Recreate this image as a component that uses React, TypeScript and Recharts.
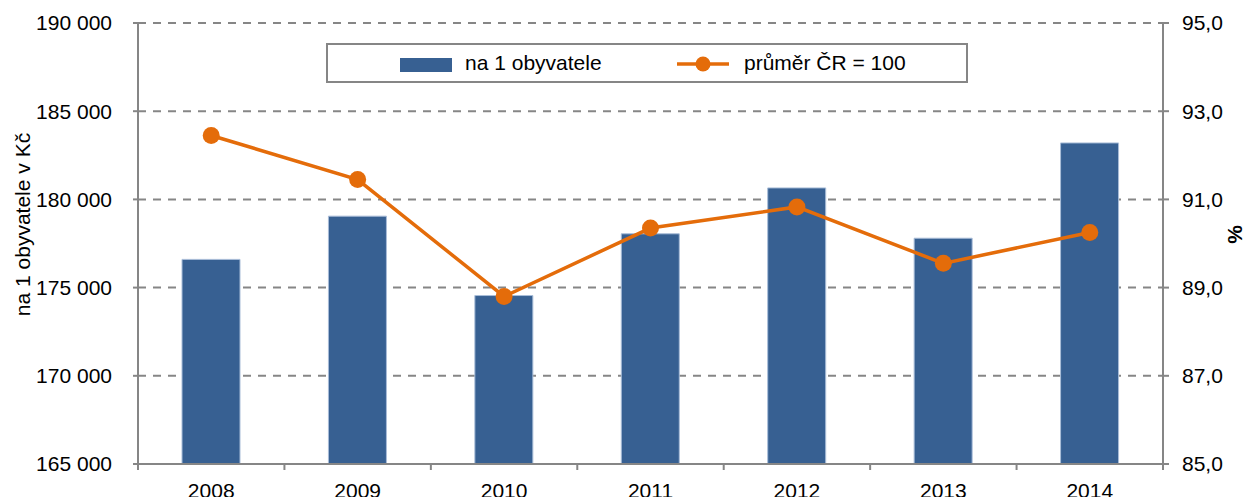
import React from 'react';
import { ComposedChart, Bar, Line, XAxis, YAxis, CartesianGrid, Legend } from 'recharts';

const years = ['2008', '2009', '2010', '2011', '2012', '2013', '2014'];
const perCapita = [176600, 179050, 174550, 178050, 180650, 177800, 183200];
const indexCR = [92.45, 91.45, 88.8, 90.35, 90.83, 89.55, 90.25];

const leftTicks = [165000, 170000, 175000, 180000, 185000, 190000];
const rightTicks = [85, 87, 89, 91, 93, 95];

const BAR_NAME = 'na 1 obyvatele';
const LINE_NAME = 'průměr ČR = 100';
const LEFT_LABEL = 'na 1 obyvatele v Kč';
const RIGHT_LABEL = '%';

const BLUE = '#376092';
const ORANGE = '#E46C0A';
const GREY = '#868686';
const FONT = '"Liberation Sans", Arial, sans-serif';

const W = 1246;
const H = 497;
const LEFT_W = 138;
const RIGHT_W = 83;
const TOP = 23;
const X_H = 33;

const data = years.map((y, i) => ({ year: y, perCapita: perCapita[i], indexCR: indexCR[i] }));

const fmtThousands = (v: number) => String(v).replace(/\B(?=(\d{3})+(?!\d))/g, ' ');
const fmtPct = (v: number) => v.toFixed(1).replace('.', ',');

const step = (W - LEFT_W - RIGHT_W) / years.length;

const YearTick = (props: any) => {
  const { x, y, payload, index } = props;
  const axisY = y - 19;
  return (
    <g>
      <line x1={x - step / 2} x2={x - step / 2} y1={axisY} y2={axisY + 6} stroke={GREY} strokeWidth={2} />
      {index === years.length - 1 && (
        <line x1={x + step / 2} x2={x + step / 2} y1={axisY} y2={axisY + 6} stroke={GREY} strokeWidth={2} />
      )}
      <text x={x} y={y} dy="0.71em" textAnchor="middle" fill="#000" fontSize={21} fontFamily={FONT}>
        {payload.value}
      </text>
    </g>
  );
};

const LegendBox = () => (
  <div
    style={{
      boxSizing: 'border-box',
      width: 642,
      height: 40,
      border: `2px solid ${GREY}`,
      background: '#fff',
      position: 'relative',
      fontFamily: FONT,
      fontSize: 21,
      color: '#000',
    }}
  >
    <div style={{ position: 'absolute', left: 72, top: 13, width: 52, height: 14, background: BLUE }} />
    <div style={{ position: 'absolute', left: 137, top: 6, lineHeight: '24px' }}>{BAR_NAME}</div>
    <svg style={{ position: 'absolute', left: 348, top: 8 }} width={54} height={22}>
      <line x1={1} x2={53} y1={11} y2={11} stroke={ORANGE} strokeWidth={3.5} />
      <circle cx={27} cy={11} r={7.5} fill={ORANGE} />
    </svg>
    <div style={{ position: 'absolute', left: 416, top: 6, lineHeight: '24px' }}>{LINE_NAME}</div>
  </div>
);

const LeftLabel = (props: any) => {
  const vb = props.viewBox;
  const cx = vb.x + 22;
  const cy = vb.y + vb.height / 2 - 19;
  return (
    <text x={cx} y={cy} transform={`rotate(-90 ${cx} ${cy})`} textAnchor="middle" dominantBaseline="central"
      fontSize={21} fontFamily={FONT} fill="#000">
      {LEFT_LABEL}
    </text>
  );
};

const RightLabel = (props: any) => {
  const vb = props.viewBox;
  const cx = vb.x + 71;
  const cy = vb.y + vb.height / 2 - 9;
  return (
    <text x={cx} y={cy} transform={`rotate(-90 ${cx} ${cy})`} textAnchor="middle" dominantBaseline="central"
      fontSize={21} fontWeight="bold" fontFamily={FONT} fill="#000">
      {RIGHT_LABEL}
    </text>
  );
};

export default function App() {
  return (
    <div style={{ position: 'absolute', left: 0, top: 0, width: W, height: H, background: '#fff' }}>
      <ComposedChart width={W} height={H} data={data} margin={{ top: TOP, right: 0, bottom: 0, left: 0 }}>
        <CartesianGrid yAxisId="left" vertical={false} stroke={GREY} strokeWidth={2} strokeDasharray="8 7" />
        <XAxis
          dataKey="year"
          height={X_H}
          axisLine={{ stroke: GREY, strokeWidth: 2 }}
          tickLine={false}
          tickSize={6}
          tickMargin={13}
          tick={<YearTick />}
          interval={0}
        />
        <YAxis
          yAxisId="left"
          width={LEFT_W}
          domain={[165000, 190000]}
          ticks={leftTicks}
          allowDataOverflow
          tickFormatter={fmtThousands}
          axisLine={{ stroke: GREY, strokeWidth: 2 }}
          tickLine={{ stroke: GREY, strokeWidth: 2 }}
          tickSize={5}
          tickMargin={21}
          tick={{ fill: '#000', fontSize: 21, fontFamily: FONT }}
          label={LeftLabel}
        />
        <YAxis
          yAxisId="right"
          orientation="right"
          width={RIGHT_W}
          domain={[85, 95]}
          ticks={rightTicks}
          allowDataOverflow
          tickFormatter={fmtPct}
          axisLine={{ stroke: GREY, strokeWidth: 2 }}
          tickLine={{ stroke: GREY, strokeWidth: 2 }}
          tickSize={6}
          tickMargin={13}
          tick={{ fill: '#000', fontSize: 21, fontFamily: FONT, textAnchor: 'start' }}
          label={RightLabel}
        />
        <Legend
          layout="horizontal"
          verticalAlign="middle"
          align="center"
          content={<LegendBox />}
          wrapperStyle={{ position: 'absolute', left: 326, top: 43, width: 642, height: 40 }}
        />
        <Bar
          yAxisId="left"
          dataKey="perCapita"
          name={BAR_NAME}
          barSize={58}
          fill={BLUE}
          stroke="#a9bdd8"
          strokeWidth={1}
          isAnimationActive={false}
        />
        <Line
          yAxisId="right"
          dataKey="indexCR"
          name={LINE_NAME}
          stroke={ORANGE}
          strokeWidth={3.5}
          dot={{ r: 8.5, fill: ORANGE, stroke: 'none' }}
          activeDot={false}
          isAnimationActive={false}
        />
      </ComposedChart>
    </div>
  );
}
